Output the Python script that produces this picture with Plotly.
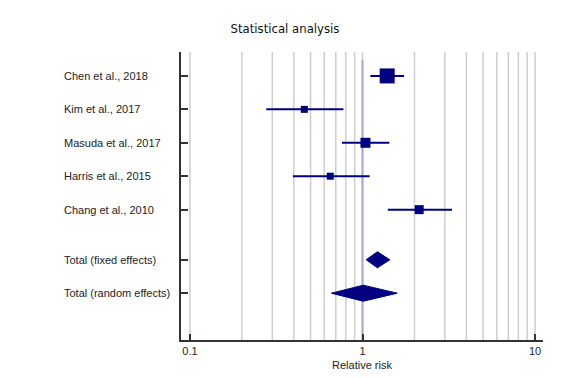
import plotly.graph_objects as go

studies = ["Chen et al., 2018", "Kim et al., 2017", "Masuda et al., 2017",
           "Harris et al., 2015", "Chang et al., 2010"]
rr = [1.39, 0.46, 1.04, 0.65, 2.13]
ci_low = [1.11, 0.277, 0.76, 0.395, 1.40]
ci_high = [1.74, 0.775, 1.43, 1.10, 3.30]
weights_px = [15, 7, 10, 7, 9]
study_rows = [0, 1, 2, 3, 4]

totals = ["Total (fixed effects)", "Total (random effects)"]
tot_rr = [1.22, 1.01]
tot_low = [1.05, 0.66]
tot_high = [1.44, 1.59]
total_rows = [5.5, 6.5]

grid_vals = [0.1, 0.2, 0.3, 0.4, 0.5, 0.6, 0.7, 0.8, 0.9, 1,
             2, 3, 4, 5, 6, 7, 8, 9, 10]
tick_vals = [0.1, 1, 10]
tick_text = ["0.1", "1", "10"]

NAVY = "#000080"
fig = go.Figure()

# grid lines
for g in grid_vals:
    fig.add_shape(type="line", xref="x", yref="paper", x0=g, x1=g, y0=0, y1=1,
                  line=dict(color="#cecece", width=1.5), layer="below")
# reference line at RR = 1
fig.add_shape(type="line", xref="x", yref="y", x0=1, x1=1, y0=-0.48, y1=7.9,
              line=dict(color="#a9a9cc", width=2), layer="below")

# CI lines
for lo, hi, r in zip(ci_low, ci_high, study_rows):
    fig.add_trace(go.Scatter(x=[lo, hi], y=[r, r], mode="lines",
                             line=dict(color=NAVY, width=2), hoverinfo="skip",
                             showlegend=False))
# squares
fig.add_trace(go.Scatter(x=rr, y=study_rows, mode="markers",
                         marker=dict(symbol="square", size=weights_px, color=NAVY,
                                     opacity=1, line=dict(width=0)),
                         showlegend=False))
# diamonds
h = 0.24
for est, lo, hi, r in zip(tot_rr, tot_low, tot_high, total_rows):
    fig.add_trace(go.Scatter(x=[lo, est, hi, est, lo], y=[r, r - h, r, r + h, r],
                             mode="lines", fill="toself", fillcolor=NAVY,
                             line=dict(color=NAVY, width=1), showlegend=False))

# labels
for name, r in zip(studies + totals, study_rows + total_rows):
    fig.add_annotation(text=name, xref="paper", yref="y", x=-0.33, y=r,
                       xanchor="left", yanchor="middle", showarrow=False,
                       font=dict(family="Liberation Sans, Arial", size=11, color="#222"))

fig.update_layout(
    width=585, height=378,
    margin=dict(l=181, r=42, t=52, b=38, autoexpand=False),
    paper_bgcolor="white", plot_bgcolor="white",
    title=dict(text="Statistical analysis", x=285 / 585, xanchor="center",
               y=1 - 28 / 378, yanchor="middle", automargin=False,
               font=dict(family="Liberation Sans Narrow, DejaVu Sans Condensed, Arial", size=13, color="#111")),
    xaxis=dict(type="log", range=[-1.052, 1.046], tickvals=tick_vals, ticktext=tick_text,
               ticks="inside", ticklen=6, tickwidth=2, tickcolor="#333", automargin=False,
               showgrid=False, zeroline=False, showline=True, linecolor="#333", linewidth=2,
               tickfont=dict(family="Liberation Sans, Arial", size=11, color="#222"),
               title=dict(text="Relative risk", standoff=5,
                          font=dict(family="Liberation Sans, Arial", size=11, color="#222"))),
    yaxis=dict(range=[7.9, -0.716], tickvals=study_rows + total_rows, automargin=False,
               ticktext=[""] * 7, ticks="inside", ticklen=7, tickwidth=1.5, tickcolor="#333",
               showgrid=False, zeroline=False, showline=True, linecolor="#333", linewidth=2),
)

fig.write_html("out.html", config={"displayModeBar": False},
               post_script="document.body.style.margin='0px';")
